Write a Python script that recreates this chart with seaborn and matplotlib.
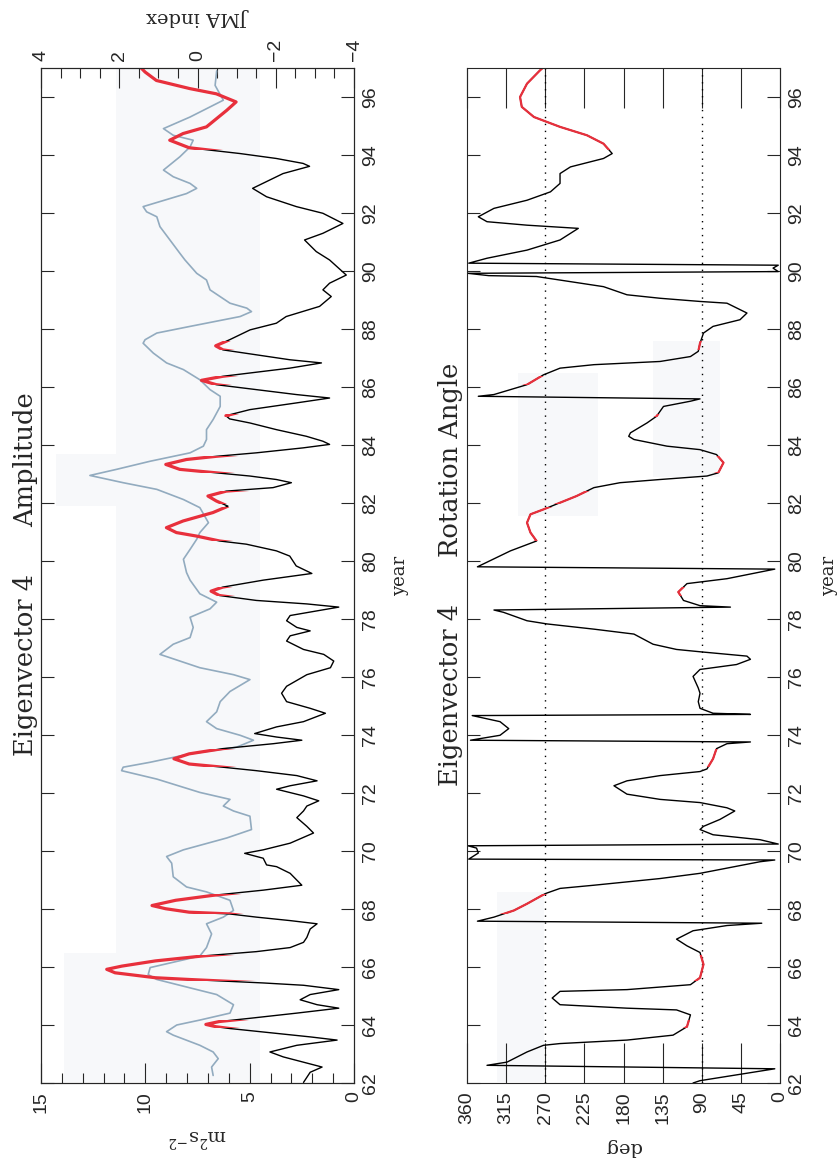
import pandas as pd
import matplotlib
matplotlib.use("Agg")
import matplotlib.pyplot as plt
import seaborn as sns
from matplotlib.patches import Rectangle

# amplitude of eigenvector 4 (m2 s-2)
amp_year = [62.02, 62.37, 62.55, 62.90, 63.07, 63.30, 63.48, 63.59, 63.71, 63.88,
            63.94, 64.02, 64.12, 64.23, 64.41, 64.58, 64.70, 64.87, 65.05, 65.22,
            65.37, 65.45, 65.51, 65.57, 65.63, 65.80, 65.92, 66.03, 66.21, 66.38,
            66.53, 66.67, 66.85, 67.02, 67.31, 67.49, 67.60, 67.72, 67.83, 67.89,
            68.01, 68.12, 68.30, 68.47, 68.65, 68.82, 69.23, 69.46, 69.52, 69.75,
            69.92, 70.04, 70.27, 70.62, 70.85, 71.15, 71.38, 71.55, 71.73, 71.90,
            72.13, 72.25, 72.42, 72.60, 72.77, 72.89, 73.00, 73.18, 73.35, 73.53,
            73.70, 73.82, 73.93, 74.05, 74.28, 74.46, 74.75, 74.92, 75.15, 75.44,
            75.68, 76.08, 76.32, 76.55, 76.78, 76.95, 77.24, 77.42, 77.59, 77.71,
            77.94, 78.12, 78.41, 78.52, 78.64, 78.81, 78.96, 79.10, 79.34, 79.57,
            79.83, 80.17, 80.35, 80.58, 80.69, 80.86, 80.98, 81.15, 81.38, 81.67,
            81.89, 82.07, 82.24, 82.41, 82.53, 82.70, 82.81, 82.93, 83.04, 83.16,
            83.33, 83.50, 83.61, 83.73, 83.90, 84.02, 84.13, 84.30, 84.53, 84.76,
            84.90, 85.01, 85.22, 85.45, 85.62, 85.74, 85.91, 86.08, 86.23, 86.37,
            86.65, 86.83, 86.94, 87.11, 87.28, 87.42, 87.63, 87.97, 88.20, 88.43,
            88.78, 89.12, 89.35, 89.58, 89.86, 90.38, 90.67, 91.07, 91.30, 91.64,
            91.99, 92.22, 92.56, 92.85, 93.36, 93.61, 93.71, 93.88, 94.05, 94.17,
            94.25, 94.51, 94.74, 94.97, 95.54, 95.83, 96.11, 96.29, 96.57, 96.86,
            97.00]
amp_value = [2.42, 2.10, 1.53, 3.39, 4.03, 2.74, 0.81, 2.10, 3.71, 5.97,
             6.61, 7.10, 6.45, 5.00, 2.74, 0.73, 1.77, 2.58, 2.10, 0.73,
             2.42, 4.35, 6.13, 7.90, 9.52, 11.45, 11.85, 11.13, 9.52, 7.26,
             4.68, 3.06, 2.42, 2.26, 2.10, 1.77, 3.06, 4.68, 5.97, 7.90,
             9.03, 9.68, 8.55, 6.77, 4.35, 2.50, 3.06, 3.71, 4.19, 4.35,
             5.24, 4.35, 3.06, 1.94, 2.26, 2.74, 2.42, 2.26, 1.69, 2.42,
             3.71, 3.06, 1.77, 2.74, 4.68, 6.29, 7.90, 8.63, 7.90, 6.29,
             3.87, 2.50, 3.71, 4.76, 3.71, 2.42, 1.37, 2.10, 3.23, 3.47,
             3.23, 2.26, 1.13, 0.97, 1.45, 2.42, 3.23, 3.06, 2.10, 2.74,
             3.23, 3.06, 0.73, 2.26, 4.68, 6.45, 6.85, 6.29, 4.35, 2.02,
             2.77, 3.08, 3.72, 5.16, 6.44, 7.55, 8.51, 8.99, 8.19, 6.76,
             6.04, 6.60, 7.00, 6.12, 3.88, 3.00, 3.72, 4.99, 6.60, 8.35,
             9.02, 8.03, 6.60, 4.68, 2.45, 1.17, 1.49, 2.28, 3.72, 4.99,
             5.96, 6.14, 4.99, 2.77, 1.17, 2.77, 4.68, 6.60, 7.31, 6.28,
             3.08, 1.56, 3.08, 4.68, 6.28, 6.63, 5.96, 4.98, 3.72, 3.25,
             1.65, 1.09, 1.49, 1.17, 0.37, 1.17, 1.81, 2.37, 1.49, 0.53,
             1.49, 2.76, 4.19, 4.86, 3.40, 2.13, 2.44, 3.72, 5.46, 6.91,
             7.90, 8.83, 8.19, 7.07, 6.10, 5.65, 6.60, 7.87, 9.47, 10.01,
             10.20]

# JMA index
jma_year = [62.26, 62.55, 62.84, 63.07, 63.30, 63.65, 63.77, 64.00, 64.17, 64.41,
            64.70, 65.05, 65.28, 65.57, 65.74, 65.98, 66.27, 66.38, 66.67, 67.14,
            67.49, 67.72, 67.95, 68.30, 68.59, 68.76, 69.11, 69.58, 69.81, 70.04,
            70.45, 70.74, 71.20, 71.38, 71.55, 71.78, 72.02, 72.48, 72.77, 72.89,
            73.06, 73.35, 73.58, 73.82, 73.99, 74.22, 74.46, 74.80, 75.15, 75.50,
            75.91, 76.08, 76.32, 76.78, 77.13, 77.36, 77.71, 78.06, 78.35, 78.58,
            78.87, 79.34, 79.60, 80.06, 80.40, 80.75, 80.98, 81.32, 81.84, 82.12,
            82.47, 82.70, 82.95, 83.16, 83.44, 83.73, 83.96, 84.19, 84.53, 84.88,
            85.33, 85.68, 85.91, 86.25, 86.60, 86.83, 87.17, 87.51, 87.63, 87.86,
            88.09, 88.43, 88.60, 88.72, 88.89, 89.35, 89.69, 89.92, 90.38, 90.61,
            91.53, 91.87, 92.04, 92.22, 92.67, 92.85, 93.02, 93.25, 93.48, 93.94,
            94.28, 94.51, 94.68, 94.91, 95.31, 95.89, 96.40, 96.90]
jma_index = [-0.40, -0.36, -0.53, -0.40, -0.06, 0.62, 0.79, 0.53, -0.06, -0.83,
             -0.92, -0.49, 0.19, 1.04, 1.26, 1.21, 0.28, -0.06, -0.23, -0.36,
             -0.23, -0.66, -0.92, -0.83, -0.23, 0.28, 0.62, 0.66, 0.79, 0.36,
             -0.75, -1.38, -1.34, -0.92, -0.66, -0.83, -0.06, 1.04, 1.94, 1.90,
             1.21, 0.19, -1.00, -1.43, -1.09, -0.49, -0.23, -0.49, -0.58, -0.83,
             -1.34, -0.92, -0.06, 0.96, 0.62, 0.19, 0.11, 0.19, -0.32, -0.49,
             -0.06, 0.19, 0.28, 0.36, 0.19, 0.02, -0.06, -0.28, -0.06, 0.36,
             1.04, 1.90, 2.75, 2.07, 1.21, 0.19, -0.15, -0.23, -0.23, -0.40,
             -0.58, -0.58, -0.32, -0.06, 0.36, 0.79, 1.13, 1.39, 1.34, 1.04,
             0.19, -1.09, -1.38, -1.26, -0.83, -0.32, -0.23, 0.02, 0.32, 0.45,
             0.96, 1.04, 1.30, 1.39, 0.28, 0.02, 0.19, 0.62, 0.87, 0.45,
             0.19, 0.11, 0.62, 0.87, 0.19, -0.66, -0.45, -0.49]

# rotation angle of eigenvector 4 (deg)
rot_year = [62.00, 62.08, 62.32, 62.49, 62.61, 62.72, 63.07, 63.30, 63.36, 63.48,
            63.65, 63.94, 64.35, 64.52, 64.58, 64.70, 64.93, 65.16, 65.22, 65.39,
            65.63, 66.09, 66.50, 66.73, 66.96, 67.25, 67.43, 67.51, 67.58, 67.72,
            67.95, 68.18, 68.53, 68.71, 68.82, 69.05, 69.23, 69.63, 69.69, 69.72,
            69.93, 70.10, 70.18, 70.24, 70.39, 70.56, 70.74, 70.85, 71.09, 71.38,
            71.49, 71.67, 71.78, 71.96, 72.25, 72.42, 72.60, 72.74, 72.83, 73.18,
            73.53, 73.70, 73.76, 73.82, 73.99, 74.22, 74.46, 74.67, 74.71, 74.75,
            74.92, 75.15, 75.44, 75.62, 76.02, 76.26, 76.43, 76.61, 76.72, 76.87,
            76.95, 77.13, 77.48, 77.65, 77.83, 77.94, 78.23, 78.31, 78.41, 78.46,
            78.64, 78.93, 79.22, 79.39, 79.72, 79.80, 80.35, 80.69, 80.98, 81.32,
            81.61, 81.78, 82.01, 82.24, 82.53, 82.70, 82.81, 82.93, 83.04, 83.39,
            83.67, 83.84, 83.96, 84.19, 84.30, 84.42, 84.76, 84.99, 85.33, 85.51,
            85.59, 85.68, 85.74, 85.91, 86.08, 86.42, 86.65, 86.77, 86.88, 87.05,
            87.23, 87.51, 87.86, 88.09, 88.32, 88.55, 88.89, 88.95, 89.06, 89.18,
            89.46, 89.81, 89.84, 89.92, 89.98, 90.10, 90.20, 90.27, 90.44, 90.72,
            91.07, 91.47, 91.58, 91.70, 91.87, 92.16, 92.44, 92.73, 93.02, 93.36,
            93.59, 93.88, 94.05, 94.39, 94.68, 94.97, 95.31, 95.66, 96.00, 96.46,
            96.92, 97.00]
rot_angle = [100, 92, 42, 6, 337, 314, 291, 272, 253, 176,
             123, 107, 103, 119, 176, 253, 262, 253, 176, 103,
             92, 88, 92, 107, 119, 100, 61, 21, 348, 329,
             306, 291, 270, 253, 214, 138, 92, 23, 6, 358,
             347, 349, 359, 2, 23, 77, 92, 88, 69, 52,
             61, 92, 138, 176, 191, 176, 138, 92, 84, 77,
             73, 61, 34, 356, 322, 312, 322, 354, 34, 77,
             92, 94, 92, 94, 100, 92, 50, 34, 38, 92,
             119, 146, 168, 214, 268, 291, 318, 329, 57, 92,
             111, 117, 107, 61, 6, 348, 310, 280, 287, 291,
             287, 272, 253, 234, 214, 184, 138, 84, 71, 65,
             73, 92, 130, 168, 174, 172, 153, 142, 134, 103,
             92, 347, 329, 310, 291, 272, 253, 214, 138, 103,
             94, 92, 88, 77, 46, 38, 61, 92, 138, 176,
             203, 280, 335, 359, 2, 8, 2, 358, 337, 291,
             253, 232, 291, 337, 347, 329, 291, 264, 253, 253,
             241, 203, 193, 203, 222, 253, 283, 297, 299, 291,
             276, 273]

# periods where the amplitude is large (drawn in red)
red_periods = [(63.88, 64.16), (65.51, 66.43), (67.83, 68.53), (72.89, 73.53),
               (78.78, 79.12), (80.68, 81.86), (81.96, 82.42), (83.04, 83.62),
               (84.96, 85.06), (86.07, 86.37), (87.28, 87.60), (94.17, 97.00)]

year_ticks = list(range(62, 97, 2))
amp_ticks = [15, 10, 5, 0]
jma_ticks = [4, 2, 0, -2, -4]
deg_ticks = [360, 315, 270, 225, 180, 135, 90, 45, 0]

RED = "#e8303c"
JMA_COLOR = "#92abbf"
SHADE = "#f7f8fa"

sns.set_style("ticks")
plt.rcParams["font.family"] = ["Liberation Sans", "DejaVu Sans"]
plt.rcParams["mathtext.fontset"] = "dejavuserif"
plt.rcParams["axes.linewidth"] = 0.8

W, H = 838, 1161
fig = plt.figure(figsize=(W / 100, H / 100), dpi=100)


def box(x0, x1, y0, y1):
    return [x0 / W, 1 - y1 / H, (x1 - x0) / W, (y1 - y0) / H]


amp = pd.DataFrame({"year": amp_year, "value": amp_value})
jma = pd.DataFrame({"year": jma_year, "index": jma_index})
rot = pd.DataFrame({"year": rot_year, "angle": rot_angle})

# ---------------- amplitude panel ----------------
ax1 = fig.add_axes(box(41, 354, 68, 1083))
axj = ax1.twiny()
ax1.set_zorder(2)
ax1.patch.set_visible(False)
axj.set_zorder(1)

for v0, v1, y0, y1 in [(11.4, 4.5, 62.05, 96.95), (13.9, 5.6, 62.05, 66.5),
                       (14.3, 5.8, 81.9, 83.7)]:
    axj.add_patch(Rectangle((v1, y0), v0 - v1, y1 - y0, transform=ax1.transData,
                            facecolor=SHADE, edgecolor="none", zorder=0))

sns.lineplot(data=jma, x="index", y="year", sort=False, estimator=None,
             color=JMA_COLOR, lw=1.2, ax=axj)
sns.lineplot(data=amp, x="value", y="year", sort=False, estimator=None,
             color="black", lw=1.0, ax=ax1)
for y0, y1 in red_periods:
    sns.lineplot(data=amp, x="value", y="year", sort=False, estimator=None,
                 color=RED, lw=2.3, ax=ax1)
    ax1.lines[-1].set_clip_path(Rectangle((0, y0), 15, y1 - y0, transform=ax1.transData))

ax1.set_xlim(15, 0)
ax1.set_ylim(62, 97)
axj.set_xlim(4, -4)
axj.set_ylim(62, 97)

# ---------------- rotation angle panel ----------------
ax2 = fig.add_axes(box(467, 780, 68, 1083))
for a0, a1, y0, y1 in [(325, 272, 62.05, 68.6), (301, 209, 81.55, 86.5),
                       (146, 69, 82.9, 87.6)]:
    ax2.add_patch(Rectangle((a1, y0), a0 - a1, y1 - y0, facecolor=SHADE,
                            edgecolor="none", zorder=0))
for a in (270, 90):
    ax2.axvline(a, color="black", lw=1.0, ls=(0, (1, 4)), zorder=1)
sns.lineplot(data=rot, x="angle", y="year", sort=False, estimator=None,
             color="black", lw=1.0, ax=ax2)
for y0, y1 in red_periods:
    sns.lineplot(data=rot, x="angle", y="year", sort=False, estimator=None,
                 color=RED, lw=1.6, ax=ax2)
    ax2.lines[-1].set_clip_path(Rectangle((0, y0), 360, y1 - y0, transform=ax2.transData))
ax2.set_xlim(360, 0)
ax2.set_ylim(62, 97)

# ---------------- ticks ----------------
for ax in (ax1, ax2):
    ax.set_xlabel("")
    ax.set_ylabel("")
    ax.set_yticks(year_ticks)
    ax.set_yticklabels([str(y) for y in year_ticks], rotation=90, va="center")
    ax.tick_params(axis="y", direction="in", length=9.5, width=0.8, left=True,
                   right=True, labelleft=False, labelright=True, labelsize=14, pad=6)
    for s in ax.spines.values():
        s.set_visible(True)
        s.set_linewidth(0.8)

ax1.set_xticks(amp_ticks)
ax1.set_xticklabels([str(t) for t in amp_ticks], rotation=90)
ax1.set_xticks(range(0, 16), minor=True)
ax1.tick_params(axis="x", which="major", direction="in", length=14.5, width=0.8,
                bottom=True, top=False, labelsize=14, pad=6)
ax1.tick_params(axis="x", which="minor", direction="in", length=7, width=0.8,
                bottom=True, top=False)

axj.set_xlabel("")
axj.set_ylabel("")
axj.set_xticks(jma_ticks)
axj.set_xticklabels(["\u2212" + str(-t) if t < 0 else str(t) for t in jma_ticks], rotation=90)
axj.set_xticks([x / 2 for x in range(-8, 9)], minor=True)
axj.tick_params(axis="x", which="major", direction="in", length=14.5, width=0.8,
                top=True, bottom=False, labelsize=14, pad=5)
axj.tick_params(axis="x", which="minor", direction="in", length=7, width=0.8,
                top=True, bottom=False)

ax2.set_xticks(deg_ticks)
ax2.set_xticklabels([str(t) for t in deg_ticks], rotation=90)
ax2.tick_params(axis="x", direction="in", length=29, width=0.8, bottom=True,
                top=True, labelbottom=True, labeltop=False, labelsize=14, pad=6)
ax2.xaxis.set_minor_locator(matplotlib.ticker.NullLocator())

# ---------------- titles and labels ----------------
serif = "DejaVu Serif"
title_kw = dict(rotation=90, rotation_mode="anchor", ha="center", va="baseline",
                family=serif, size=18.5)
fig.text(33 / W, 1 - 665 / H, "Eigenvector 4", **title_kw)
fig.text(33 / W, 1 - 460 / H, "Amplitude", **title_kw)
fig.text(458 / W, 1 - 695 / H, "Eigenvector 4", **title_kw)
fig.text(458 / W, 1 - 460 / H, "Rotation Angle", **title_kw)

label_kw = dict(rotation=90, rotation_mode="anchor", ha="center", va="baseline",
                family=serif, size=13)
fig.text(405 / W, 1 - 576 / H, "year", **label_kw)
fig.text(834 / W, 1 - 576 / H, "year", **label_kw)

flip_kw = dict(rotation=180, ha="center", va="center", family=serif, size=14)
fig.text(198 / W, 1 - 1137 / H, r"m$^2$s$^{-2}$", **flip_kw)
fig.text(623 / W, 1 - 1147 / H, "deg", **flip_kw)
fig.text(200 / W, 1 - 17 / H, "JMA index", **flip_kw)

fig.savefig("out.png", dpi=100, facecolor="white")
